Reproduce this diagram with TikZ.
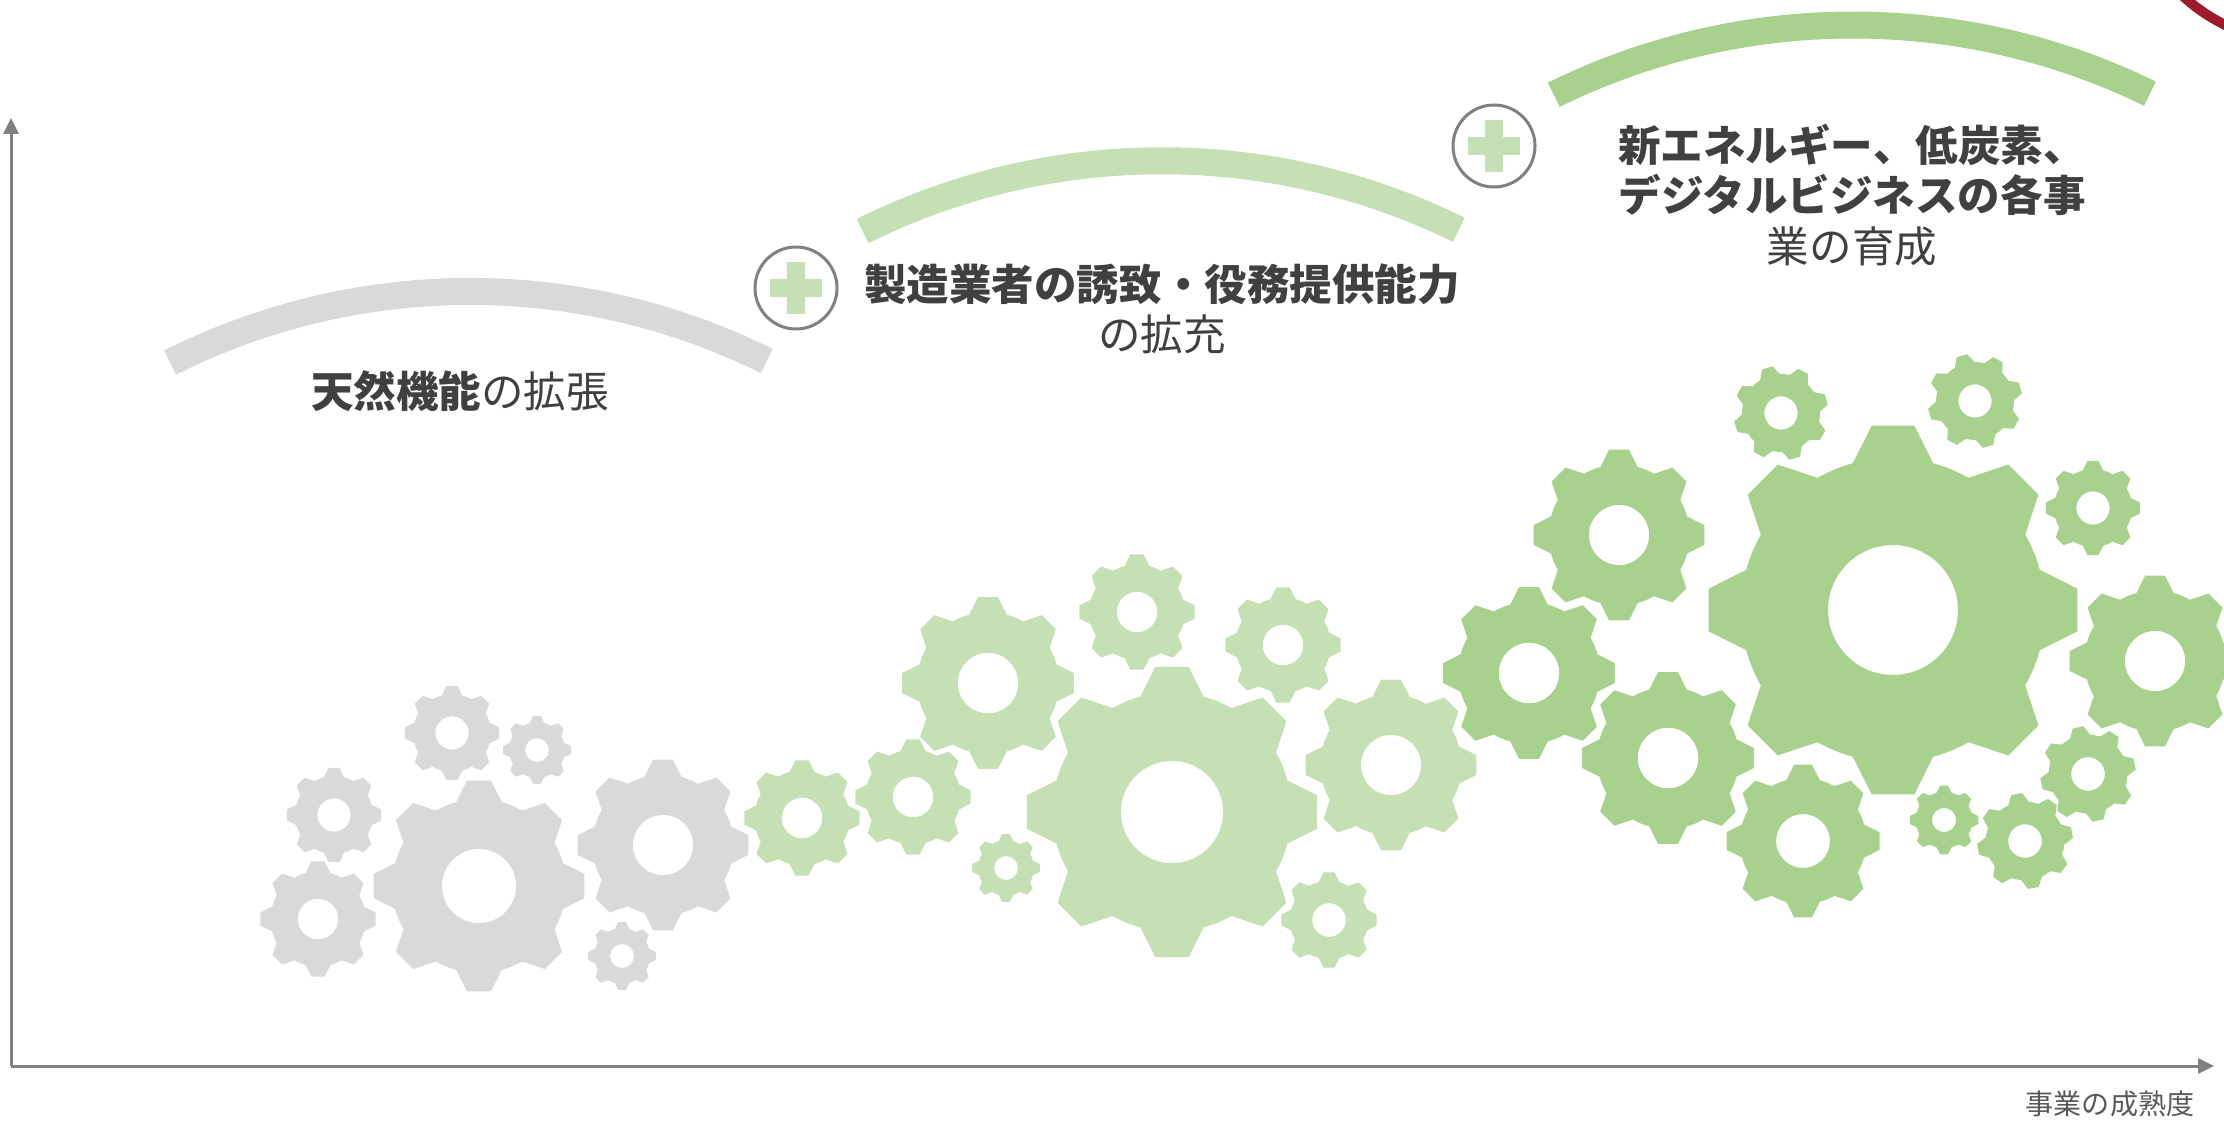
\documentclass[tikz,border=0pt]{standalone}
\usepackage{fontspec}
\newfontfamily\jp{Noto Sans CJK JP}
\usetikzlibrary{arrows.meta}

\definecolor{gearGray}{HTML}{D9D9D9}
\definecolor{gearLight}{HTML}{C5E0B4}
\definecolor{gearGreen}{HTML}{A9D18E}
\definecolor{axisGray}{HTML}{808080}
\definecolor{ink}{HTML}{404040}
\definecolor{labelGray}{HTML}{595959}
\definecolor{wine}{HTML}{9E1B2C}

% eight-tooth cog: centre x, centre y, tip radius, rotation, colour
\newcommand\cog[5]{%
  \begin{scope}[shift={(#1,#2)}, rotate=#4]
    \fill[#5, even odd rule] (-15.3:{0.82*#3})
      \foreach \k in {0,...,7}{
        -- ({\k*45-15.3}:{0.82*#3}) -- ({\k*45-6.6}:{#3})
        -- ({\k*45+6.6}:{#3}) -- ({\k*45+15.3}:{0.82*#3})
        arc[start angle={\k*45+15.3}, end angle={\k*45+29.7}, radius={0.82*#3}]
      } -- cycle
      (0,0) circle[radius={0.35*#3}];
  \end{scope}}

\tikzset{
  band/.style={line width=2.7mm},
  plusring/.style={circle, draw=axisGray, line width=0.3mm, minimum size=8.2mm, inner sep=0pt},
  axisline/.style={axisGray, line width=0.3mm, -{Triangle[length=1.6mm,width=1.5mm]}},
  headline/.style={ink, align=center, font=\jp\fontsize{12.1}{14.4}\selectfont},
}

\begin{document}
\begin{tikzpicture}[x=0.1mm, y=-0.1mm]
  \useasboundingbox (0,0) rectangle (2224,1122);
  \clip (0,0) rectangle (2224,1122);

  % axes
  \coordinate (origin) at (11,1066);
  \coordinate (xend) at (2214,1066);
  \coordinate (yend) at (11,118);
  \draw[axisline] (origin) -- (xend);
  \draw[axisline] (origin) -- (yend);
  \node[labelGray, font=\jp\fontsize{8}{10}\selectfont] (xlabel) at (2110,1104) {事業の成熟度};

  % first stage: grey cogs
  \cog{452}{733}{47.5}{0}{gearGray}
  \cog{537}{750}{34}{0}{gearGray}
  \cog{334}{815}{47.5}{0}{gearGray}
  \cog{318}{919}{58}{0}{gearGray}
  \cog{479}{886}{106}{0}{gearGray}
  \cog{663}{845}{86}{0}{gearGray}
  \cog{622}{956}{34}{0}{gearGray}

  % second stage: light green cogs
  \cog{802}{818}{58}{0}{gearLight}
  \cog{913}{797}{58}{0}{gearLight}
  \cog{988}{683}{86.5}{0}{gearLight}
  \cog{1137}{612}{58}{0}{gearLight}
  \cog{1283}{645}{58}{0}{gearLight}
  \cog{1172}{812}{146}{0}{gearLight}
  \cog{1391}{765}{86}{0}{gearLight}
  \cog{1006}{868}{34}{0}{gearLight}
  \cog{1329}{920}{48}{0}{gearLight}

  % third stage: green cogs
  \cog{1619}{535}{86}{0}{gearGreen}
  \cog{1529}{673}{86.5}{0}{gearGreen}
  \cog{1668}{758}{86.5}{0}{gearGreen}
  \cog{1893}{610}{185.6}{0}{gearGreen}
  \cog{1781}{413}{47.5}{17}{gearGreen}
  \cog{1975}{401}{47.5}{16}{gearGreen}
  \cog{2093}{508}{47.5}{0}{gearGreen}
  \cog{2155}{661}{86}{0}{gearGreen}
  \cog{1803}{841}{77}{0}{gearGreen}
  \cog{1944}{820}{34.5}{0}{gearGreen}
  \cog{2025}{841}{48}{10}{gearGreen}
  \cog{2088}{774}{48}{12}{gearGreen}

  % stage bands
  \draw[band, gearGray] (470,959) ++(-116.7:667.6)
    arc[start angle=-116.7, end angle=-63.6, radius=667.6];
  \draw[band, gearLight] (1162,833) ++(-116.45:672.3)
    arc[start angle=-116.45, end angle=-63.8, radius=672.3];
  \draw[band, gearGreen] (1853,701.7) ++(-116.25:676.7)
    arc[start angle=-116.25, end angle=-63.97, radius=676.7];

  % ring in the top corner
  \draw[wine, line width=1mm] (2300,-130) circle[radius=172];

  % plus markers
  \node[plusring] (plusA) at (796,288) {};
  \fill[gearLight] (770,279) rectangle (822,297);
  \fill[gearLight] (787,262) rectangle (805,314);
  \node[plusring] (plusB) at (1494,146) {};
  \fill[gearLight] (1468,137) rectangle (1520,155);
  \fill[gearLight] (1485,120) rectangle (1503,172);

  % stage captions
  \node[headline] (capA) at (460,391) {\bfseries 天然機能\mdseries の拡張};
  \node[headline] (capB) at (1162,309)
    {\bfseries 製造業者の誘致・役務提供能力\\\mdseries の拡充};
  \node[headline] (capC) at (1852,195)
    {\bfseries 新エネルギー、低炭素、\\\bfseries デジタルビジネスの各事\\\mdseries 業の育成};
\end{tikzpicture}
\end{document}
